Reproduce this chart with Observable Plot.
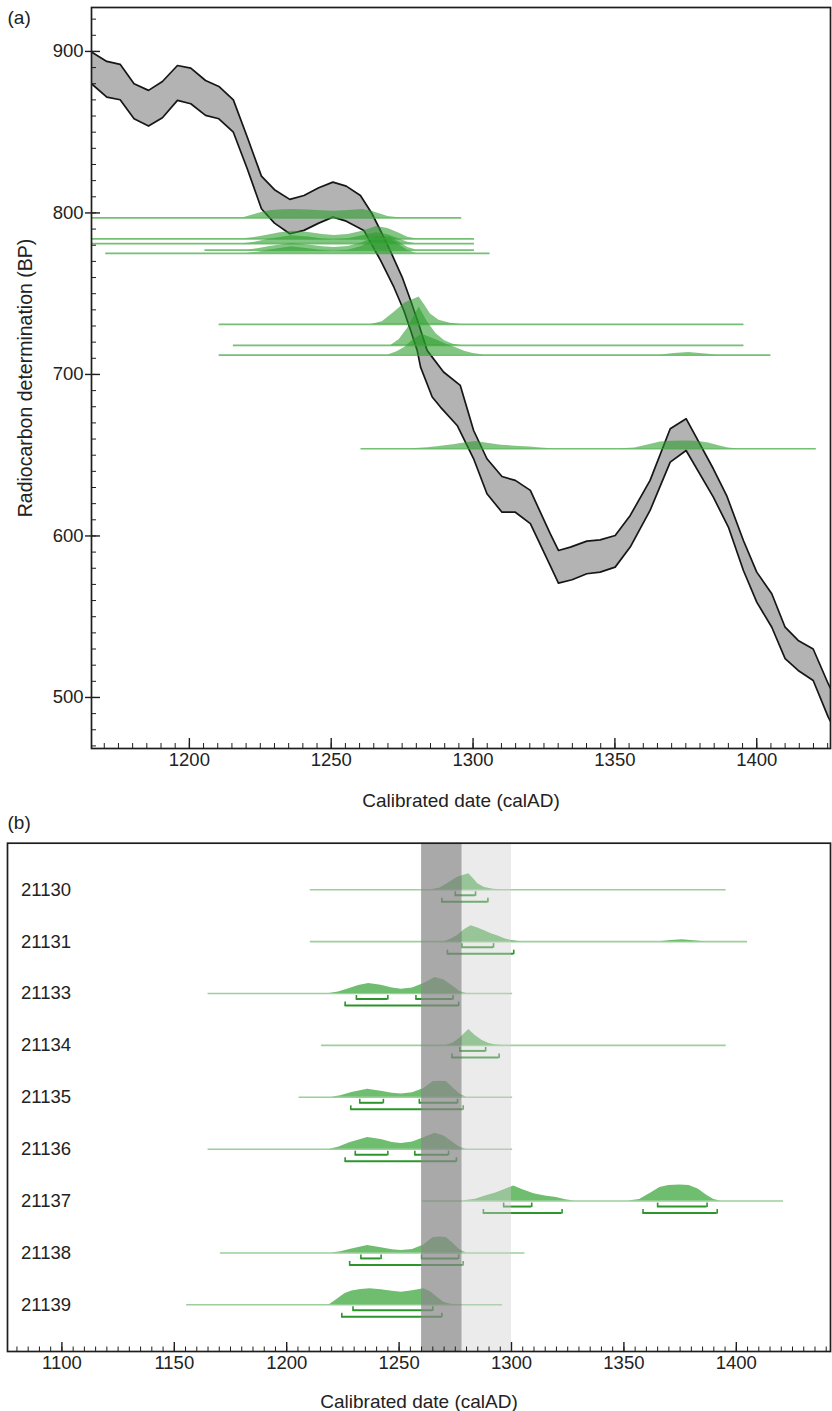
<!DOCTYPE html>
<html>
<head>
<meta charset="utf-8">
<script src="https://cdn.jsdelivr.net/npm/d3@7"></script>
<script src="https://cdn.jsdelivr.net/npm/@observablehq/plot@0.6"></script>
<style>
  html, body { margin: 0; padding: 0; background: #fff; overflow: hidden; }
  #wrap { position: relative; width: 832px; height: 1411px; }
  #wrap > svg { position: absolute; left: 0; }
</style>
</head>
<body>
<div id="wrap"></div>
<script>
// ---------------- DATA ----------------
// Calibration curve band (upper and lower edges), calAD vs BP
const curveUpperYear = [1165.5,1170.9,1175.6,1180.5,1185.6,1190.5,1195.8,1200.5,1205.7,1210.4,1215.5,1220.4,1225.4,1230,1235.4,1240.4,1245.6,1250.6,1255.3,1260.3,1264.4,1269.7,1275,1278,1280.8,1283.8,1289.6,1295.5,1300.2,1304.9,1310.2,1314.9,1320.2,1327.2,1330.1,1334.3,1340.1,1344.8,1350.1,1355.4,1362.4,1369.5,1375.1,1384.7,1389.4,1395.3,1400,1405.3,1410,1414.6,1419.9,1425.2,1427];
const curveUpperBP   = [899.6,893.8,892,880,875.9,881.4,891.3,889.7,882,878.3,870,847,822.8,814.4,808.4,810.8,815.6,819.1,816.6,810.8,799.5,780.9,760.3,745.8,731.4,714.9,701.5,693.2,665.3,647.8,636.8,634.4,628.2,601.4,591,593.1,596.8,597.6,600.3,612.7,634.4,666.4,672.6,641.6,625,597.2,577.6,564.2,543.5,535.3,530,508.5,502];
const curveLowerYear = [1165.5,1170.9,1175.6,1180.5,1185.6,1190.5,1195.8,1200.5,1205.7,1210.4,1215.5,1220.4,1225.4,1230,1235.4,1240.4,1245.6,1250.6,1255.3,1261.5,1267.4,1272.1,1275.6,1278,1280.3,1281.5,1285.6,1288.5,1294.4,1300.2,1304.9,1310.2,1314.9,1320.2,1327.2,1330.1,1334.9,1340.1,1344.8,1350.1,1355.4,1362.4,1369.5,1375.1,1384.7,1390,1395.3,1400,1405.3,1410,1414.6,1419.9,1425.2,1427];
const curveLowerBP   = [880,871.7,870.1,858.3,853.8,858.9,869.7,867.6,860.4,858.3,850,827.4,802.6,793.7,787.1,789.2,793.7,797.4,794.9,789.2,770.6,754,739.6,727.2,714.9,704.5,686,679.8,668.4,647.8,626.1,614.7,614.7,607.6,581.7,570.8,572.9,576.6,577.6,580.7,593.1,615.8,645.7,652.9,624,605.5,578.6,559,543.5,524,516.7,510.5,487.8,482];

// Samples
const sampleIds  = ["21130","21131","21133","21134","21135","21136","21137","21138","21139"];
const sampleBP   = [731, 712, 784, 718, 777, 781, 654, 775, 797];
const rangeStart = [1210.5, 1210.5, 1165, 1215.5, 1205.5, 1165, 1260.5, 1170.5, 1155.5];
const rangeEnd   = [1395.5, 1405, 1300.5, 1395.5, 1300.5, 1300.5, 1421, 1306, 1296];

// Probability distributions (relative probability vs calAD)
const distYear = [
  [1264,1268,1272,1276,1281,1283,1285,1288,1292,1296],
  [1270,1273,1276,1279,1282,1285,1288,1291,1294,1297,1300,1304,1366,1371,1376,1381,1386],
  [1219,1223,1227,1232,1236.5,1242,1247,1251,1256,1261,1266,1270,1274,1277,1280],
  [1271,1274,1277,1281,1284,1287,1290,1293,1296],
  [1220,1224,1229,1236,1242,1247,1251,1256,1261,1265,1268,1271,1274,1277,1280],
  [1219,1223,1228,1236,1242,1247,1251,1256,1261,1266,1270,1274,1277,1280],
  [1278,1284,1288,1293,1297,1301,1305,1310,1315,1320,1324,1328,1352,1357,1362,1366,1370,1375,1379,1383,1387,1390,1393],
  [1220,1224,1229,1236,1242,1247,1251,1256,1261,1265,1268,1271,1274,1277,1280],
  [1219,1222,1226,1229,1233,1237,1242,1247,1251,1256,1261,1264,1267,1270,1273,1276]
];
const distProb = [
  [0,0.1,0.42,0.78,1,0.7,0.38,0.15,0.04,0],
  [0,0.15,0.38,0.75,1,0.85,0.68,0.5,0.35,0.18,0.07,0,0,0.08,0.12,0.06,0],
  [0,0.1,0.27,0.5,0.62,0.52,0.35,0.27,0.35,0.62,1,0.85,0.45,0.12,0],
  [0,0.15,0.45,1,0.6,0.3,0.12,0.03,0],
  [0,0.1,0.3,0.5,0.38,0.25,0.2,0.28,0.55,0.97,1,0.98,0.6,0.2,0],
  [0,0.12,0.4,0.73,0.6,0.42,0.36,0.45,0.72,1,0.82,0.42,0.12,0],
  [0,0.12,0.3,0.5,0.72,0.94,0.7,0.45,0.32,0.22,0.08,0,0,0.1,0.5,0.85,0.97,1,0.97,0.75,0.35,0.1,0],
  [0,0.08,0.25,0.46,0.32,0.2,0.15,0.22,0.5,0.95,1,0.97,0.6,0.2,0],
  [0,0.3,0.7,0.86,0.96,1,0.94,0.84,0.79,0.88,1,0.82,0.48,0.15,0.03,0]
];

// Highest-probability ranges (68.3% and 95.4%)
const range68 = [
  [[1275,1284]],
  [[1278,1292]],
  [[1231,1245],[1257.5,1274]],
  [[1277,1288.5]],
  [[1232.5,1243],[1259,1276]],
  [[1230.5,1245],[1257,1272]],
  [[1296.5,1309],[1365,1387]],
  [[1233,1242],[1260,1276.5]],
  [[1229.5,1265]]
];
const range95 = [
  [[1269,1289.5]],
  [[1271.5,1301]],
  [[1226,1276.5]],
  [[1273.5,1294.5]],
  [[1228.5,1278.5]],
  [[1226,1275.5]],
  [[1287.5,1322.5],[1358.5,1391.5]],
  [[1228,1278.5]],
  [[1224.5,1269]]
];

// Highlighted intervals in panel (b)
const bandDark  = [1260, 1278];
const bandLight = [1278, 1300];

// Axes
const topXTicks = [1200, 1250, 1300, 1350, 1400];
const topYTicks = [500, 600, 700, 800, 900];
const botXTicks = [1100, 1150, 1200, 1250, 1300, 1350, 1400];
const topXDomain = [1165.5, 1426];
const topYDomain = [468.4, 927.2];
const botXDomain = [1075.8, 1441.9];

const xTitle = "Calibrated date (calAD)";
const yTitle = "Radiocarbon determination (BP)";

// ---------------- BUILD ----------------
const FONT = "'Liberation Sans', Arial, Helvetica, sans-serif";
const W = 832;
const upperPts = curveUpperYear.map((x, i) => ({x, y: curveUpperBP[i]}));
const lowerPts = curveLowerYear.map((x, i) => ({x, y: curveLowerBP[i]}));
const bandPoly = upperPts.concat(lowerPts.slice().reverse());

const samples = sampleIds.map((id, i) => {
  const dist = distYear[i].map((yr, j) => ({yr, p: distProb[i][j]}));
  const area = d3.sum(d3.pairs(dist), ([a, b]) => (b.yr - a.yr) * (a.p + b.p) / 2);
  return {id, i, bp: sampleBP[i], start: rangeStart[i], end: rangeEnd[i], dist, area};
});
const TOP_K = 206; // area-normalised height factor (BP·yr)

// ---- Panel (a) ----
const topH = 810, topMT = 7, topMB = 62, topML = 91, topMR = 2;
const topInnerH = topH - topMT - topMB;
const topInnerW = W - topML - topMR;
const axisColor = "#1e1e1e";

const topPlot = Plot.plot({
  width: W, height: topH,
  marginTop: topMT, marginBottom: topMB, marginLeft: topML, marginRight: topMR,
  style: {fontFamily: FONT, background: "transparent", overflow: "visible"},
  x: {domain: topXDomain, axis: null},
  y: {domain: topYDomain, axis: null},
  marks: [
    Plot.line(bandPoly, {x: "x", y: "y", fill: "#b3b3b3", stroke: "none", clip: true}),
    Plot.line(upperPts, {x: "x", y: "y", stroke: "#161616", strokeWidth: 1.7, clip: true}),
    Plot.line(lowerPts, {x: "x", y: "y", stroke: "#161616", strokeWidth: 1.7, clip: true}),
    ...samples.map(s => Plot.areaY(s.dist, {
      x: "yr", y1: s.bp, y2: d => s.bp + d.p / s.area * TOP_K,
      fill: "#2a9d2a", fillOpacity: 0.58, clip: true
    })),
    Plot.ruleY(samples, {y: "bp", x1: "start", x2: "end", stroke: "#3aa53a", strokeOpacity: 0.7, strokeWidth: 1.7, clip: true}),
    // ticks
    Plot.ruleX(d3.range(1170, 1426, 5), {x: d => d, insetTop: topInnerH - 5, stroke: axisColor, strokeWidth: 1}),
    Plot.ruleX(topXTicks, {x: d => d, insetTop: topInnerH - 10, stroke: axisColor, strokeWidth: 1.4}),
    Plot.ruleY(d3.range(470, 927, 10), {y: d => d, insetRight: topInnerW - 5, stroke: axisColor, strokeWidth: 1}),
    Plot.ruleY(topYTicks, {y: d => d, insetLeft: -6, insetRight: topInnerW - 9, stroke: axisColor, strokeWidth: 1.4}),
    Plot.text(topXTicks, {x: d => d, text: d => String(d), frameAnchor: "bottom", lineAnchor: "top", dy: 4, fontSize: 18.5, fill: "#222"}),
    Plot.text(topYTicks, {y: d => d, text: d => String(d), frameAnchor: "left", textAnchor: "end", dx: -8, fontSize: 18.5, fill: "#222"}),
    Plot.text([xTitle], {frameAnchor: "bottom", textAnchor: "middle", lineAnchor: "middle", dy: 52, fontSize: 19, fill: "#222"}),
    Plot.text([yTitle], {frameAnchor: "left", textAnchor: "middle", lineAnchor: "middle", rotate: -90, dx: -66, fontSize: 19.5, fill: "#222"}),
    Plot.text(["(a)"], {frameAnchor: "top-left", textAnchor: "start", lineAnchor: "middle", dx: -84, dy: 10.5, fontSize: 19, fill: "#222"}),
    Plot.frame({stroke: axisColor, strokeWidth: 1.7})
  ]
});
topPlot.style.top = "0px";

// ---- Panel (b) ----
const botTop = 810, botH = 601, botMT = 32.7, botMB = 60, botML = 7, botMR = 2;
const botInnerH = botH - botMT - botMB;
const ROW_PX = (botInnerH) / (8 + 0.898 + 0.9);
const PEAK = 16 / ROW_PX;

const b68 = samples.flatMap(s => range68[s.i].map(([lo, hi]) => ({i: s.i, lo, hi})));
const b95 = samples.flatMap(s => range95[s.i].map(([lo, hi]) => ({i: s.i, lo, hi})));
const ends = b => b.flatMap(d => [{i: d.i, x: d.lo}, {i: d.i, x: d.hi}]);
const brColor = "#2c962c";

const botPlot = Plot.plot({
  width: W, height: botH,
  marginTop: botMT, marginBottom: botMB, marginLeft: botML, marginRight: botMR,
  style: {fontFamily: FONT, background: "transparent", overflow: "visible"},
  x: {domain: botXDomain, axis: null},
  y: {domain: [8.9, -0.898], axis: null},
  marks: [
    Plot.ruleY(samples, {y: "i", x1: "start", x2: "end", stroke: "#9bd09b", strokeWidth: 1.6}),
    ...samples.map(s => Plot.areaY(s.dist, {
      x: "yr", y1: s.i, y2: d => s.i - d.p * PEAK, fill: "#6fbd6f"
    })),
    Plot.ruleY(b68, {y: "i", x1: "lo", x2: "hi", dy: 5.5, stroke: brColor, strokeWidth: 2}),
    Plot.ruleX(ends(b68), {x: "x", y1: "i", y2: "i", dy: 5.5, insetTop: -3.5, insetBottom: -1, stroke: brColor, strokeWidth: 1.6}),
    Plot.ruleY(b95, {y: "i", x1: "lo", x2: "hi", dy: 12, stroke: brColor, strokeWidth: 2}),
    Plot.ruleX(ends(b95), {x: "x", y1: "i", y2: "i", dy: 12, insetTop: -3.5, insetBottom: -1, stroke: brColor, strokeWidth: 1.6}),
    Plot.rect([bandLight], {x1: d => d[0], x2: d => d[1], fill: "#cfcfcf", fillOpacity: 0.42}),
    Plot.rect([bandDark], {x1: d => d[0], x2: d => d[1], fill: "#888888", fillOpacity: 0.72}),
    Plot.ruleX(d3.range(1080, 1441, 5), {x: d => d, insetTop: botInnerH - 4.5, stroke: axisColor, strokeWidth: 1}),
    Plot.ruleX(botXTicks, {x: d => d, insetTop: botInnerH - 9, stroke: axisColor, strokeWidth: 1.4}),
    Plot.text(samples, {y: "i", text: "id", frameAnchor: "left", textAnchor: "start", dx: 13.5, fontSize: 18.5, fill: "#222"}),
    Plot.text(botXTicks, {x: d => d, text: d => String(d), frameAnchor: "bottom", lineAnchor: "top", dy: 4, fontSize: 18.5, fill: "#222"}),
    Plot.text([xTitle], {frameAnchor: "bottom", textAnchor: "middle", lineAnchor: "middle", dy: 50.7, fontSize: 19, fill: "#222"}),
    Plot.text(["(b)"], {frameAnchor: "top-left", textAnchor: "start", lineAnchor: "middle", dx: 0, dy: -20.2, fontSize: 19, fill: "#222"}),
    Plot.frame({stroke: axisColor, strokeWidth: 1.7})
  ]
});
botPlot.style.top = botTop + "px";

const wrap = document.getElementById("wrap");
wrap.appendChild(topPlot);
wrap.appendChild(botPlot);
</script>
</body>
</html>
